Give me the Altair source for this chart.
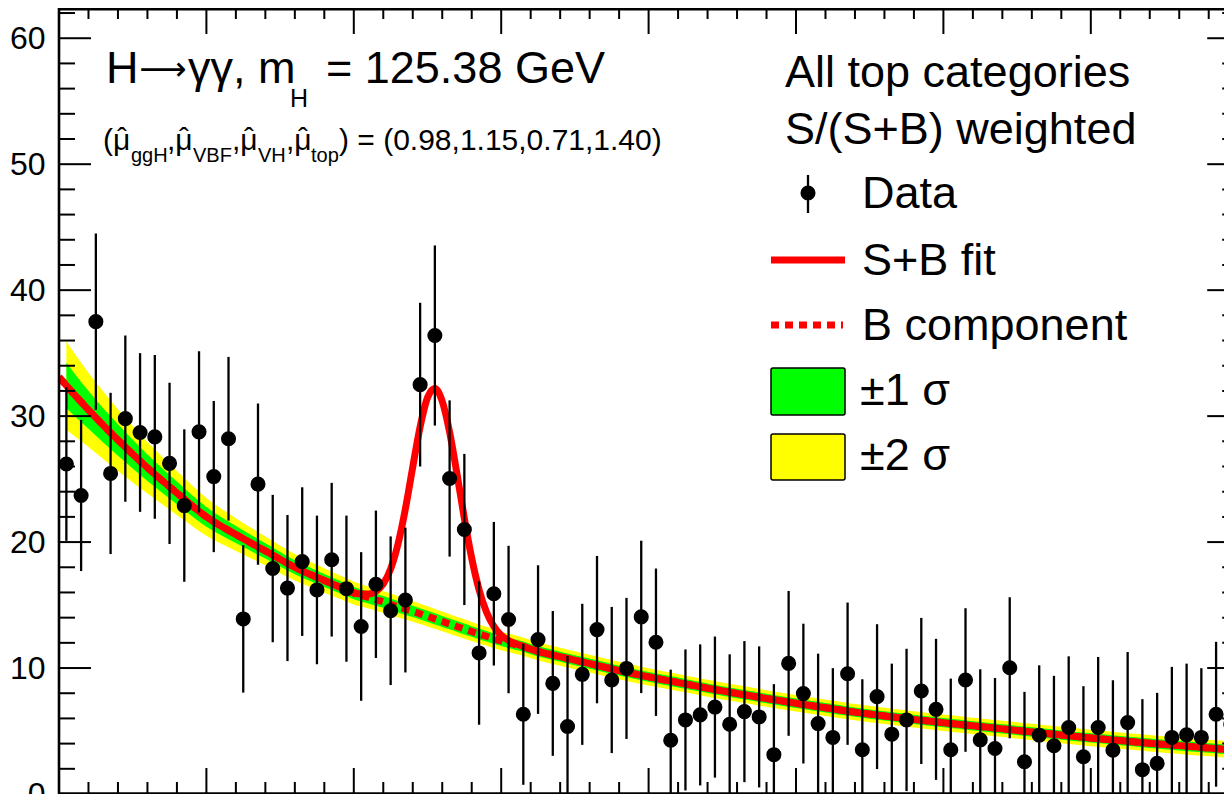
import altair as alt
import pandas as pd

# ---------------- data ----------------
mass = [100.5, 101.5, 102.5, 103.5, 104.5, 105.5, 106.5, 107.5, 108.5, 109.5,
        110.5, 111.5, 112.5, 113.5, 114.5, 115.5, 116.5, 117.5, 118.5, 119.5,
        120.5, 121.5, 122.5, 123.5, 124.5, 125.5, 126.5, 127.5, 128.5, 129.5,
        130.5, 131.5, 132.5, 133.5, 134.5, 135.5, 136.5, 137.5, 138.5, 139.5,
        140.5, 141.5, 142.5, 143.5, 144.5, 145.5, 146.5, 147.5, 148.5, 149.5,
        150.5, 151.5, 152.5, 153.5, 154.5, 155.5, 156.5, 157.5, 158.5, 159.5,
        160.5, 161.5, 162.5, 163.5, 164.5, 165.5, 166.5, 167.5, 168.5, 169.5,
        170.5, 171.5, 172.5, 173.5, 174.5, 175.5, 176.5, 177.5, 178.5, 179.5]
values = [26.2, 23.7, 37.5, 25.45, 29.8, 28.7, 28.35, 26.25, 22.9, 28.75,
          25.2, 28.2, 13.9, 24.6, 17.9, 16.35, 18.45, 16.2, 18.6, 16.3,
          13.3, 16.65, 14.55, 15.4, 32.5, 36.4, 25.05, 21.0, 11.2, 15.9,
          13.85, 6.33, 12.26, 8.78, 5.36, 9.5, 13.05, 9.05, 9.97, 14.06,
          12.05, 4.27, 5.88, 6.28, 6.9, 5.54, 6.54, 6.12, 3.12, 10.37,
          7.97, 5.59, 4.49, 9.55, 3.51, 7.73, 4.75, 5.88, 8.18, 6.72,
          3.51, 9.05, 4.3, 3.61, 10.02, 2.56, 4.67, 3.83, 5.28, 2.96,
          5.28, 3.48, 5.67, 1.93, 2.43, 4.49, 4.7, 4.49, 6.33, 5.54]
errors = [6.1, 6.0, 7.0, 6.4, 6.6, 6.3, 6.5, 6.4, 6.05, 6.4,
          6.0, 6.5, 5.85, 6.4, 5.85, 5.8, 5.9, 5.9, 6.1, 5.8,
          5.9, 5.85, 5.9, 5.75, 6.5, 7.15, 6.2, 6.0, 5.7, 5.7,
          5.85, 5.6, 5.9, 5.75, 5.6, 5.6, 5.85, 5.8, 5.6, 6.05,
          5.85, 5.6, 5.6, 5.6, 5.6, 5.55, 5.6, 5.6, 5.6, 5.75,
          5.55, 5.55, 5.5, 5.65, 5.6, 5.75, 5.6, 5.65, 5.8, 5.6,
          5.65, 5.7, 5.6, 5.6, 5.6, 5.55, 5.55, 5.55, 5.65, 5.6,
          5.6, 5.55, 5.6, 5.6, 5.6, 5.6, 5.65, 5.5, 5.75, 5.55]

curve_m = [100, 100.5, 101, 102, 104, 106, 108, 110, 112, 114, 116, 118,
           119, 119.5, 120, 120.5, 121, 121.5, 122, 122.5, 123, 123.5, 124, 124.5,
           125, 125.5, 126, 126.5, 127, 127.5, 128, 128.5, 129, 129.5, 130, 130.5,
           131, 131.5, 132,
           134, 136, 138, 140, 142, 144, 146, 148, 150, 152, 154, 156, 158, 160,
           162, 164, 166, 168, 170, 172, 174, 176, 178, 180]
bkg = [33.1, 32.43, 31.77, 30.5, 28.1, 25.9, 23.9, 22.0, 20.6, 19.3, 18.0, 16.95,
       16.45, 16.2, 15.95, 15.77, 15.6, 15.42, 15.25, 15.06, 14.87, 14.68, 14.5, 14.3,
       14.1, 13.9, 13.7, 13.5, 13.3, 13.1, 12.9, 12.71, 12.52, 12.33, 12.15, 12.0,
       11.85, 11.7, 11.5,
       10.9, 10.35, 9.8, 9.3, 8.85, 8.4, 7.98, 7.58, 7.2, 6.85, 6.5, 6.2, 5.92, 5.66,
       5.41, 5.17, 4.92, 4.68, 4.45, 4.24, 4.03, 3.84, 3.65, 3.47]
sb_fit = [33.1, 32.43, 31.77, 30.5, 28.1, 25.9, 23.9, 22.0, 20.6, 19.3, 18.0, 16.95,
          16.45, 16.21, 15.98, 15.87, 15.87, 16.08, 16.68, 17.87, 19.85, 22.64, 25.96, 29.16,
          31.47, 32.2, 31.18, 28.73, 25.41, 21.88, 18.71, 16.21, 14.45, 13.30, 12.59, 12.19,
          11.92, 11.72, 11.5,
          10.9, 10.35, 9.8, 9.3, 8.85, 8.4, 7.98, 7.58, 7.2, 6.85, 6.5, 6.2, 5.92, 5.66,
          5.41, 5.17, 4.92, 4.68, 4.45, 4.24, 4.03, 3.84, 3.65, 3.47]
# band half widths, from m = 100.5 onwards
band1 = [1.8, 1.7, 1.5, 1.25, 1.05, 0.9, 0.78, 0.68, 0.61, 0.56, 0.52,
         0.50, 0.50, 0.49, 0.49, 0.48, 0.48, 0.47, 0.47, 0.46, 0.46, 0.45, 0.45,
         0.44, 0.44, 0.44, 0.43, 0.43, 0.43, 0.42, 0.42, 0.42, 0.41, 0.41, 0.41,
         0.41, 0.40, 0.40,
         0.40, 0.40, 0.39, 0.39, 0.39, 0.38, 0.38, 0.38, 0.38, 0.37, 0.37, 0.37,
         0.37, 0.37, 0.37, 0.37, 0.37, 0.37, 0.37, 0.37, 0.37, 0.38, 0.38, 0.38]
band2 = [3.5, 3.3, 2.95, 2.45, 2.05, 1.75, 1.5, 1.3, 1.15, 1.05, 0.97,
         0.93, 0.92, 0.9, 0.89, 0.88, 0.87, 0.86, 0.85, 0.84, 0.83, 0.82, 0.81,
         0.8, 0.79, 0.78, 0.775, 0.77, 0.765, 0.76, 0.755, 0.75, 0.745, 0.74, 0.735,
         0.73, 0.725, 0.72,
         0.71, 0.70, 0.69, 0.68, 0.675, 0.67, 0.665, 0.66, 0.66, 0.655, 0.65, 0.65,
         0.65, 0.65, 0.65, 0.65, 0.65, 0.65, 0.65, 0.65, 0.655, 0.66, 0.66, 0.665]

y_major = [0, 10, 20, 30, 40, 50, 60]
y_minor = [2, 4, 6, 8, 12, 14, 16, 18, 22, 24, 26, 28, 32, 34, 36, 38,
           42, 44, 46, 48, 52, 54, 56, 58, 62]
x_major = [100, 110, 120, 130, 140, 150, 160, 170, 180]
x_minor = [102, 104, 106, 108, 112, 114, 116, 118, 122, 124, 126, 128,
           132, 134, 136, 138, 142, 144, 146, 148, 152, 154, 156, 158,
           162, 164, 166, 168, 172, 174, 176, 178]

# ---------------- layout ----------------
PX_PER_GEV = 14.74
W, H = 1165, 786
XMAX = 100 + W / PX_PER_GEV
FR = 80 * PX_PER_GEV          # frame right edge (beyond the visible page)
YMAX = 62.4
FONT = "Liberation Sans"
RED, GREEN, YELLOW = "#ff0000", "#00ff00", "#ffff00"

xs = alt.Scale(domain=[100, XMAX], nice=False, zero=False)
ys = alt.Scale(domain=[0, YMAX], nice=False, zero=False)
yaxis = alt.Axis(values=y_major, ticks=False, domain=False, grid=False,
                 labelFontSize=32, labelFont=FONT, labelColor="black",
                 labelPadding=14, title=None, labelFlush=False, labelOverlap=False)


def X(f):
    return alt.X(f, type="quantitative", scale=xs, axis=None)


def Y(f):
    return alt.Y(f, type="quantitative", scale=ys, axis=yaxis)


pts = pd.DataFrame({"m": mass, "v": values, "e": errors})
pts["lo"] = (pts["v"] - pts["e"]).clip(lower=0)
pts["hi"] = pts["v"] + pts["e"]

cur = pd.DataFrame({"m": curve_m, "b": bkg, "sb": sb_fit})
band = pd.DataFrame({"m": curve_m[1:], "b": bkg[1:], "w1": band1, "w2": band2})
band["lo1"] = band["b"] - band["w1"]
band["hi1"] = band["b"] + band["w1"]
band["lo2"] = band["b"] - band["w2"]
band["hi2"] = band["b"] + band["w2"]

one = pd.DataFrame({"k": [0]})

layers = []
layers.append(alt.Chart(band).mark_area(color=YELLOW, opacity=1, interpolate="monotone", clip=True)
              .encode(x=X("m"), y=Y("lo2"), y2="hi2"))
layers.append(alt.Chart(band).mark_area(color=GREEN, opacity=1, interpolate="monotone", clip=True)
              .encode(x=X("m"), y=Y("lo1"), y2="hi1"))
layers.append(alt.Chart(cur).mark_line(color=RED, strokeWidth=7, strokeDash=[8, 6],
                                       interpolate="monotone", clip=True)
              .encode(x=X("m"), y=Y("b")))
layers.append(alt.Chart(cur).mark_line(color=RED, strokeWidth=7, interpolate="monotone", clip=True)
              .encode(x=X("m"), y=Y("sb")))
layers.append(alt.Chart(pts).mark_rule(color="black", strokeWidth=2.3, clip=True)
              .encode(x=X("m"), y=Y("lo"), y2="hi"))
layers.append(alt.Chart(pts).mark_circle(color="black", opacity=1, size=227)
              .encode(x=X("m"), y=Y("v")))

# ticks (pointing inwards, ROOT style)
TW = 2
for vals, x0, x1 in [(y_major, 0, 32), (y_minor, 0, 16),
                     (y_major, FR - 31, FR), (y_minor, FR - 16, FR)]:
    layers.append(alt.Chart(pd.DataFrame({"t": vals})).mark_rule(color="black", strokeWidth=TW)
                  .encode(y=Y("t"), x=alt.value(x0), x2=alt.value(x1)))
for vals, y0, y1 in [(x_major, H - 26, H), (x_minor, H - 12, H),
                     (x_major, 0, 26), (x_minor, 0, 11)]:
    layers.append(alt.Chart(pd.DataFrame({"t": vals})).mark_rule(color="black", strokeWidth=TW)
                  .encode(x=X("t"), y=alt.value(y0), y2=alt.value(y1)))

# frame
FW = 2.6
layers.append(alt.Chart(one).mark_rule(color="black", strokeWidth=FW)
              .encode(x=alt.value(0), y=alt.value(0), y2=alt.value(H + 1)))
layers.append(alt.Chart(one).mark_rule(color="black", strokeWidth=FW)
              .encode(y=alt.value(H - 0.5), x=alt.value(-1), x2=alt.value(W + 10)))
layers.append(alt.Chart(one).mark_rule(color="black", strokeWidth=FW)
              .encode(y=alt.value(1.3), x=alt.value(-1), x2=alt.value(W + 10)))


def txt(s, x, y, size, align="left", font=FONT):
    return (alt.Chart(one)
            .mark_text(text=s, fontSize=size, font=font, color="black",
                       align=align, baseline="alphabetic")
            .encode(x=alt.value(x), y=alt.value(y)))


# title line 1
layers.append(txt("H", 47, 75, 45))
layers.append(txt("\u27f6", 104, 72, 33, align="center", font="DejaVu Sans"))
layers.append(txt("\u03b3\u03b3, m", 129, 75, 45))
layers.append(txt("H", 231, 99, 25))
layers.append(txt("= 125.38 GeV", 267, 75, 45))
# title line 2: (mu-hat_ggH, mu-hat_VBF, mu-hat_VH, mu-hat_top) = (...)
layers.append(txt("(\u03bc", 44, 142, 30))
layers.append(txt("ggH", 72, 154, 20))
layers.append(txt(",\u03bc", 108, 142, 30))
layers.append(txt("VBF", 134, 154, 20))
layers.append(txt(",\u03bc", 173, 142, 30))
layers.append(txt("VH", 199, 154, 20))
layers.append(txt(",\u03bc", 227, 142, 30))
layers.append(txt("top", 252, 154, 20))
for cx in [63, 125, 190, 244]:
    layers.append(txt("\u02c6", cx, 140, 30, align="center"))
layers.append(txt(") = (0.98,1.15,0.71,1.40)", 280, 142, 30))

# legend
layers.append(txt("All top categories", 726, 79, 45))
layers.append(txt("S/(S+B) weighted", 726, 136, 45))
layers.append(alt.Chart(one).mark_rule(color="black", strokeWidth=2.3)
              .encode(x=alt.value(749), y=alt.value(167), y2=alt.value(205)))
layers.append(alt.Chart(one).mark_circle(color="black", opacity=1, size=227)
              .encode(x=alt.value(749), y=alt.value(185)))
layers.append(txt("Data", 803, 200, 45))
layers.append(alt.Chart(one).mark_rule(color=RED, strokeWidth=7)
              .encode(x=alt.value(712), x2=alt.value(786), y=alt.value(252)))
layers.append(txt("S+B fit", 803, 267, 45))
layers.append(alt.Chart(one).mark_rule(color=RED, strokeWidth=7, strokeDash=[8, 6])
              .encode(x=alt.value(712), x2=alt.value(784), y=alt.value(317)))
layers.append(txt("B component", 803, 332, 45))
layers.append(alt.Chart(one).mark_rect(fill=GREEN, stroke="black", strokeWidth=1.5, cornerRadius=2)
              .encode(x=alt.value(712), x2=alt.value(786), y=alt.value(360), y2=alt.value(407)))
layers.append(txt("\u00b11 \u03c3", 801, 397, 45))
layers.append(alt.Chart(one).mark_rect(fill=YELLOW, stroke="black", strokeWidth=1.5, cornerRadius=2)
              .encode(x=alt.value(712), x2=alt.value(786), y=alt.value(426), y2=alt.value(472)))
layers.append(txt("\u00b12 \u03c3", 801, 462, 45))

chart = (alt.layer(*layers)
         .properties(width=W, height=H,
                     padding={"left": 51, "top": 0, "right": 0, "bottom": 0},
                     autosize=alt.AutoSizeParams(type="none"),
                     background="white")
         .configure_view(stroke=None))

chart.save("out.html", embed_options={"renderer": "svg", "actions": False})
